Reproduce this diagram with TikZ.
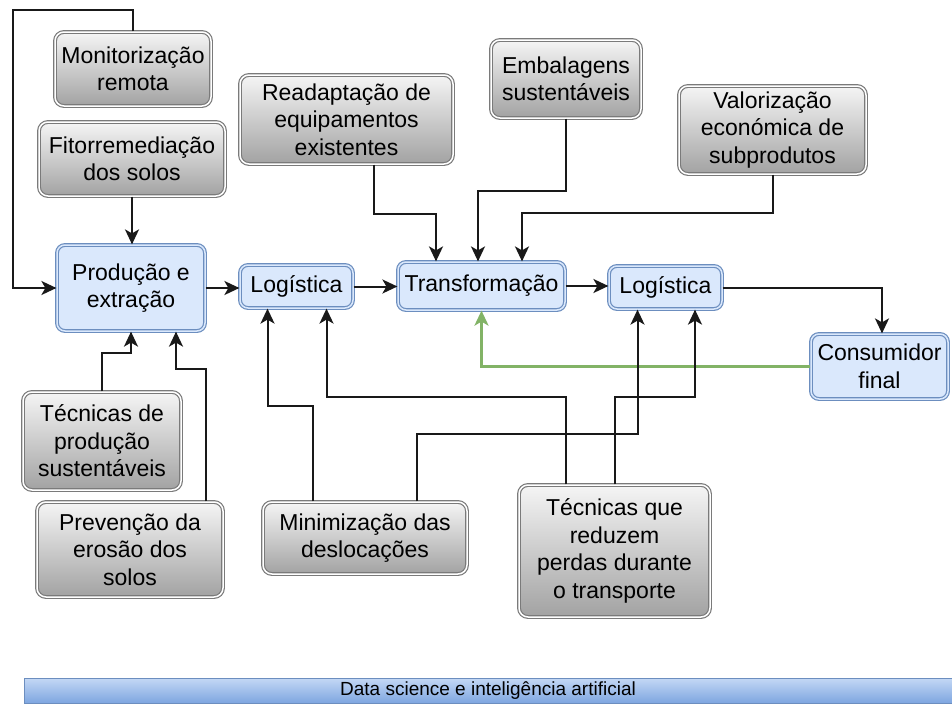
\documentclass[tikz,border=0pt]{standalone}
\usepackage{fontspec}
\setmainfont{Liberation Sans}
\usetikzlibrary{arrows.meta}
\definecolor{boxline}{HTML}{7A7A7A}
\definecolor{boxtop}{HTML}{F5F5F5}
\definecolor{boxbot}{HTML}{A2A2A2}
\definecolor{blueline}{HTML}{6C8EBF}
\definecolor{bluefill}{HTML}{DAE8FC}
\definecolor{bartop}{HTML}{C4D8F5}
\definecolor{barbot}{HTML}{7EA6E0}
\definecolor{greenline}{HTML}{82B366}
\tikzset{
  graybox/.style={draw=boxline, double=white, double distance=1.5pt, line width=1.2pt,
    rounded corners=9pt, top color=boxtop, bottom color=boxbot, align=center,
    inner sep=2pt, font=\fontsize{23}{27.5}\selectfont},
  bluebox/.style={draw=blueline, double=bluefill, double distance=1.5pt, line width=1.2pt,
    rounded corners=8pt, fill=bluefill, align=center,
    inner sep=2pt, font=\fontsize{23}{27.5}\selectfont},
  link/.style={draw=black!90, line width=2pt, -{Stealth[length=15pt,width=14pt,inset=4pt]}},
  backlink/.style={link, draw=greenline, line width=2.8pt, -{Stealth[length=15pt,width=14pt,inset=4pt,fill=greenline]}}
}
\begin{document}
\begin{tikzpicture}[x=1pt,y=-1pt]
  \useasboundingbox (0,0) rectangle (952,704);
  % grey boxes
  \node[graybox, minimum width=156pt, minimum height=74pt] (mon) at (133,69) {Monitorização\\remota};
  \node[graybox, minimum width=186pt, minimum height=74pt] (fito) at (132,159) {Fitorremediação\\dos solos};
  \node[graybox, minimum width=213pt, minimum height=89pt] (read) at (346.5,119.5) {Readaptação de\\equipamentos\\existentes};
  \node[graybox, minimum width=150pt, minimum height=78pt] (emb) at (566,79) {Embalagens\\sustentáveis};
  \node[graybox, minimum width=187pt, minimum height=88pt] (val) at (772.5,130) {Valorização\\económica de\\subprodutos};
  \node[graybox, minimum width=158pt, minimum height=98pt] (tprod) at (102,441) {Técnicas de\\produção\\sustentáveis};
  \node[graybox, minimum width=186pt, minimum height=95pt] (prev) at (130,549.5) {Prevenção da\\erosão dos\\solos};
  \node[graybox, minimum width=204pt, minimum height=72pt] (mini) at (365,538) {Minimização das\\deslocações};
  \node[graybox, minimum width=191pt, minimum height=132pt] (tred) at (614.5,551) {Técnicas que\\reduzem\\perdas durante\\o transporte};
  % chain
  \node[bluebox, minimum width=148pt, minimum height=86pt] (prod) at (131,288) {Produção e\\extração};
  \node[bluebox, minimum width=113pt, minimum height=43pt] (log1) at (296.5,286.5) {Logística};
  \node[bluebox, minimum width=167pt, minimum height=48pt] (trans) at (481.5,286) {Transformação};
  \node[bluebox, minimum width=113pt, minimum height=43pt] (log2) at (665.5,287.5) {Logística};
  \node[bluebox, minimum width=137pt, minimum height=65pt] (cons) at (879.5,366.5) {Consumidor\\final};
  \node[draw=blueline, line width=0.6pt, top color=bartop, bottom color=barbot,
    minimum width=928pt, minimum height=25pt, inner sep=0pt,
    font=\fontsize{19}{22}\selectfont] (bar) at (488,690.5) {Data science e inteligência artificial};
  \coordinate (loop) at (13,10);
  % connectors
  \draw[link] (mon.north) |- (loop) |- (prod.west);
  \draw[link] (fito.south) -- (fito.south |- prod.north);
  \draw[link] (tprod.north) -- ++(0,-38) -| (prod.south);
  \draw[link] ([xshift=-18pt]prev.north east) -- ++(0,-132) -| ([xshift=45pt]prod.south);
  \draw[link] (prod.east) -- (prod.east -| log1.west);
  \draw[link] (log1.east) -- (log1.east -| trans.west);
  \draw[link] (trans.east) -- (trans.east -| log2.west);
  \draw[link] (log2.east) -| ([xshift=2.5pt]cons.north);
  \draw[backlink] (cons.west) -| (trans.south);
  \draw[link] ([xshift=27.5pt]read.south) -- ++(0,49) -| ([xshift=-45.5pt]trans.north);
  \draw[link] (emb.south) -- ++(0,72) -| ([xshift=-3.5pt]trans.north);
  \draw[link] (val.south) -- ++(0,38) -| ([xshift=40.5pt]trans.north);
  \draw[link] ([xshift=-52pt]mini.north) -- ++(0,-95) -| ([xshift=-29pt]log1.south);
  \draw[link] ([xshift=52pt]mini.north) -- ++(0,-67) -| ([xshift=-28pt]log2.south);
  \draw[link] ([xshift=-48.5pt]tred.north) -- ++(0,-87) -| ([xshift=30pt]log1.south);
  \draw[link] ([xshift=0.5pt]tred.north) -- ++(0,-87) -| ([xshift=29.5pt]log2.south);
\end{tikzpicture}
\end{document}
